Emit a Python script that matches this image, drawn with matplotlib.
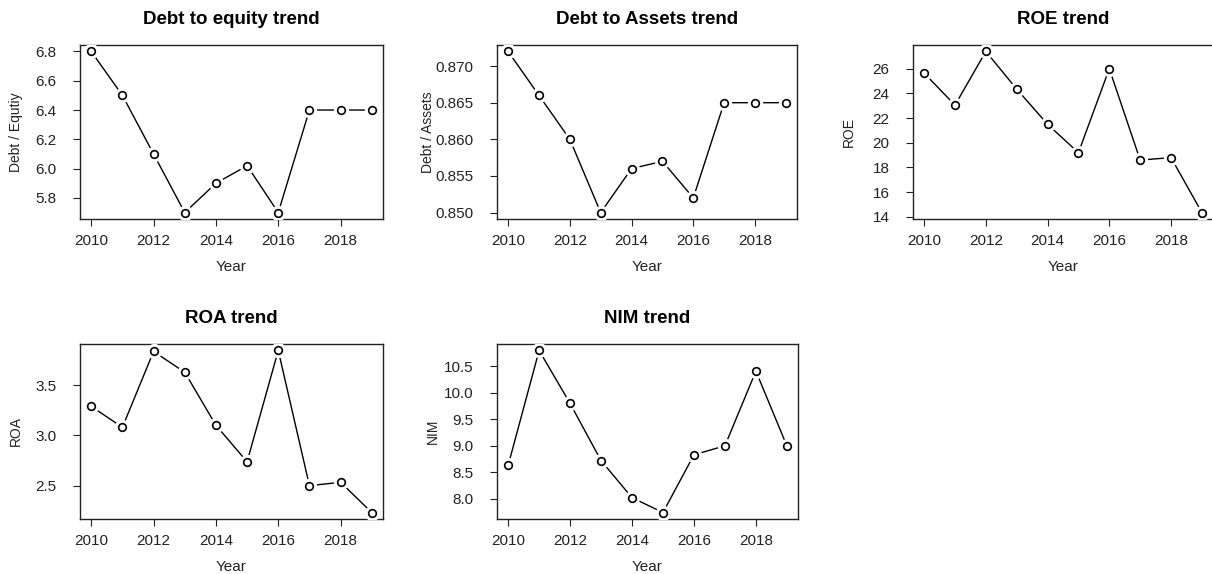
import matplotlib.pyplot as plt
import numpy as np

plt.rcParams['font.family'] = ['Liberation Sans', 'DejaVu Sans']

years = [2010, 2011, 2012, 2013, 2014, 2015, 2016, 2017, 2018, 2019]
debt_equity = [6.80, 6.50, 6.10, 5.70, 5.90, 6.02, 5.70, 6.40, 6.40, 6.40]
debt_assets = [0.872, 0.866, 0.860, 0.850, 0.856, 0.857, 0.852, 0.865, 0.865, 0.865]
roe = [25.65, 23.05, 27.4, 24.35, 21.5, 19.2, 26.0, 18.6, 18.8, 14.35]
roa = [3.287, 3.08, 3.833, 3.627, 3.10, 2.737, 3.843, 2.50, 2.533, 2.233]
nim = [8.63, 10.80, 9.80, 8.72, 8.02, 7.74, 8.83, 9.00, 10.41, 9.00]

titles = ["Debt to equity trend", "Debt to Assets trend", "ROE trend", "ROA trend", "NIM trend"]
ylabels = ["Debt / Equtiy", "Debt / Assets", "ROE", "ROA", "NIM"]
series = [debt_equity, debt_assets, roe, roa, nim]
yticks = [
    [5.8, 6.0, 6.2, 6.4, 6.6, 6.8],
    [0.850, 0.855, 0.860, 0.865, 0.870],
    [14, 16, 18, 20, 22, 24, 26],
    [2.5, 3.0, 3.5],
    [8.0, 8.5, 9.0, 9.5, 10.0, 10.5],
]
yfmt = ["%.1f", "%.3f", "%d", "%.1f", "%.1f"]

W, H = 1212, 574
fig = plt.figure(figsize=(W / 100, H / 100), dpi=100)

# panel boxes in pixels: left, top, right, bottom
boxes = [
    (80, 45, 383, 219),
    (497, 45, 797, 219),
    (913, 45, 1213, 219),
    (80, 344, 383, 519),
    (497, 344, 798, 519),
]
# distance of y label from box, px
ylab_off = [57, 62, 57, 57, 57]

for i in range(5):
    l, t, r, b = boxes[i]
    ax = fig.add_axes([l / W, 1 - b / H, (r - l) / W, (b - t) / H])
    y = np.array(series[i])
    ax.plot(years, y, color='black', lw=1.0, zorder=2)
    ax.plot(years, y, 'o', ms=10, color='white', mec='white', zorder=3)
    ax.plot(years, y, 'o', ms=5.5, mfc='white', mec='black', mew=1.2, zorder=4)
    pad_y = (y.max() - y.min()) * 0.04
    ax.set_ylim(y.min() - pad_y, y.max() + pad_y)
    ax.set_xlim(2010 - 0.36, 2019 + 0.36)
    ax.set_xticks([2010, 2012, 2014, 2016, 2018])
    ax.set_yticks(yticks[i])
    ax.set_yticklabels([yfmt[i] % v for v in yticks[i]])
    ax.tick_params(labelsize=11, length=5, width=0.8, colors='#222222')
    ax.tick_params(axis='y', pad=12)
    ax.tick_params(axis='x', pad=6)
    for s in ax.spines.values():
        s.set_linewidth(1.0)
        s.set_color('#222222')
    ax.set_title(titles[i], fontsize=13.5, fontweight='bold', pad=15)
    ax.set_xlabel("Year", fontsize=11, color='#222222')
    ax.xaxis.set_label_coords(0.5, -41 / (b - t))
    ax.set_ylabel(ylabels[i], fontsize=10, color='#222222')
    ax.yaxis.set_label_coords(-ylab_off[i] / (r - l), 0.5)

plt.savefig("out.png", dpi=100)
